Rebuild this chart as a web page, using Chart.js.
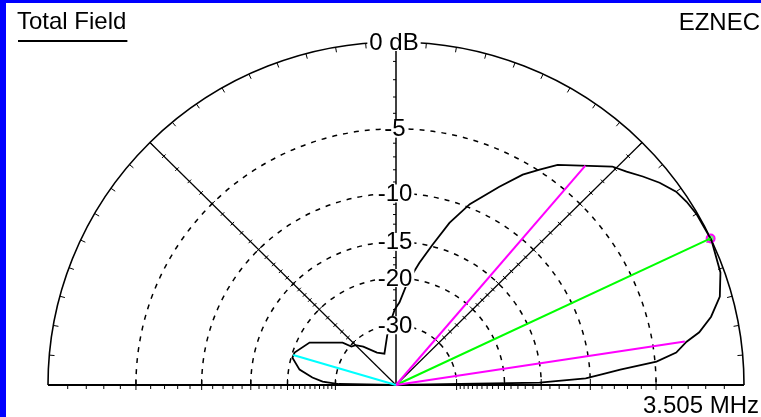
<!DOCTYPE html>
<html lang="en">
<head>
<meta charset="UTF-8">
<title>Total Field - EZNEC</title>
<script src="https://cdn.jsdelivr.net/npm/chart.js@4"></script>
<style>
  html, body { margin: 0; padding: 0; background: #fff; }
  #wrap { width: 761px; height: 417px; position: relative; }
</style>
</head>
<body>
<div id="wrap"><canvas id="chart"></canvas></div>
<script>
// elevation pattern (degrees, dB relative to max)
const angles = [0, 1, 2, 3, 4, 5.2, 6.7, 8.6, 10, 12.4, 15.5, 19.4, 25, 29.9, 32.6, 35, 37.9, 40.6, 43.2, 45.7,
                54.1, 56.7, 59.3, 62.8, 68.1, 72, 75.6, 79.3, 83.7, 87.6, 91, 95, 100, 110, 120, 130, 135,
                138.8, 141.2, 153.5, 162, 165, 170.8, 174.8, 177.3, 179, 180];
const gains = [-99, -15.2, -10.4, -9.0, -7.5, -4.9, -3.6, -2.9, -2.1, -1.3, -0.6, -0.2, 0, -0.05, -0.15, -0.3, -0.7, -1.17, -1.64, -2.0,
               -4.0, -4.9, -5.8, -7.4, -9.7, -12.0, -14.8, -17.4, -20.6, -24.4, -26, -29, -33, -40, -38, -33, -31,
               -30.4, -27.9, -22.0, -20.3, -20.2, -21.8, -24.4, -26.7, -31, -99];

// cursor lines: max gain, the two -3 dB points, rear lobe
const maxAngle = 25.3, maxGain = 0;
const halfPowerAngles = [49.6, 8.7], halfPowerGain = -3;
const rearAngle = 163.5, rearGain = -20.2;

// grid
const ringLevels = [-5, -10, -15, -20, -30];
const ringLabels = ['-5', '-10', '-15', '-20', '-30'];

// ARRL log scale
const rad = dB => Math.pow(0.89, -dB / 2);
const toXY = (a, dB) => {
  const r = rad(dB), t = a * Math.PI / 180;
  return { x: r * Math.cos(t), y: r * Math.sin(t) };
};

const patternPts = angles.map((a, i) => toXY(a, gains[i]));
const ray = (a, dB) => [{ x: 0, y: 0 }, toXY(a, dB)];

const FONT = '"Liberation Sans", Arial, sans-serif';

const ezGrid = {
  id: 'ezGrid',
  beforeDraw(chart) {
    const ctx = chart.ctx;
    ctx.save();
    ctx.fillStyle = '#fff';
    ctx.fillRect(0, 0, chart.width, chart.height);
    ctx.fillStyle = '#0000ff';
    ctx.fillRect(0, 0, 6, chart.height);
    ctx.fillRect(0, 0, chart.width, 3);
    ctx.restore();
  },
  beforeDatasetsDraw(chart) {
    const ctx = chart.ctx, xs = chart.scales.x, ys = chart.scales.y;
    const cx = xs.getPixelForValue(0), cy = ys.getPixelForValue(0);
    const rx = xs.getPixelForValue(1) - cx, ry = cy - ys.getPixelForValue(1);
    const P = (a, r) => {
      const t = a * Math.PI / 180;
      return [cx + rx * r * Math.cos(t), cy - ry * r * Math.sin(t)];
    };
    ctx.save();
    ctx.strokeStyle = '#000';

    // dashed rings
    ctx.lineWidth = 1.5;
    ctx.setLineDash([5, 6]);
    ringLevels.forEach(l => {
      const r = rad(l);
      ctx.beginPath();
      ctx.ellipse(cx, cy, rx * r, ry * r, 0, Math.PI, 2 * Math.PI);
      ctx.stroke();
    });
    ctx.setLineDash([]);

    // outer circle
    ctx.lineWidth = 1.6;
    ctx.beginPath();
    ctx.ellipse(cx, cy, rx, ry, 0, Math.PI, 2 * Math.PI);
    ctx.stroke();
    ctx.lineWidth = 1;
    for (let a = 5; a < 180; a += 5) {
      if (a === 90) continue;
      const [x1, y1] = P(a, 1), [x2, y2] = P(a, 0.985);
      ctx.beginPath(); ctx.moveTo(x1, y1); ctx.lineTo(x2, y2); ctx.stroke();
    }

    // baseline
    ctx.lineWidth = 2;
    ctx.beginPath();
    ctx.moveTo(cx - rx, cy); ctx.lineTo(cx + rx, cy);
    ctx.stroke();
    ctx.lineWidth = 1;
    for (let d = 1; d <= 30; d++) {
      const r = rad(-d), major = ringLevels.includes(-d);
      [-1, 1].forEach(s => {
        const x = cx + s * rx * r;
        ctx.beginPath();
        ctx.moveTo(x, cy - (major ? 6 : 0));
        ctx.lineTo(x, cy + (major ? 5 : 4));
        ctx.stroke();
      });
    }

    // radial lines at 45, 90, 135
    [45, 90, 135].forEach(a => {
      const [x1, y1] = P(a, 1);
      ctx.lineWidth = a === 90 ? 1.5 : 1.2;
      ctx.beginPath(); ctx.moveTo(cx, cy); ctx.lineTo(x1, y1); ctx.stroke();
      const t = a * Math.PI / 180;
      const nx = Math.sin(t), ny = Math.cos(t);
      ctx.lineWidth = 1;
      for (let d = 1; d <= 30; d++) {
        if (d > 20 && d % 2) continue;
        const [x, y] = P(a, rad(-d));
        const major = ringLevels.includes(-d);
        const len = major ? 4 : 2.5;
        ctx.beginPath();
        if (a === 90) {
          ctx.moveTo(x - (major ? 4 : 3), y); ctx.lineTo(x + (major ? 4 : 0), y);
        } else {
          ctx.moveTo(x - nx * len, y - ny * len); ctx.lineTo(x + nx * len, y + ny * len);
        }
        ctx.stroke();
      }
    });
    ctx.restore();
  },
  afterDatasetsDraw(chart) {
    const ctx = chart.ctx, xs = chart.scales.x, ys = chart.scales.y;
    const cx = xs.getPixelForValue(0), cy = ys.getPixelForValue(0);
    const ry = cy - ys.getPixelForValue(1);
    ctx.save();
    ctx.textBaseline = 'middle';
    ctx.textAlign = 'center';
    ctx.font = '24px ' + FONT;
    const label = (txt, x, y) => {
      const w = ctx.measureText(txt).width;
      ctx.fillStyle = '#fff';
      ctx.fillRect(x - w / 2 - 2, y - 9, w + 4, 18);
      ctx.fillStyle = '#000';
      ctx.fillText(txt, x, y + 1);
    };
    label('0 dB', cx - 2, cy - ry);
    ringLevels.forEach((l, i) => label(ringLabels[i], cx - 1, cy - ry * rad(l)));

    ctx.textBaseline = 'alphabetic';
    ctx.textAlign = 'left';
    ctx.fillText('Total Field', 17, 29);
    const w = ctx.measureText('Total Field').width;
    ctx.fillRect(18, 40, w, 2);
    ctx.textAlign = 'right';
    ctx.fillText('EZNEC', 760, 30);
    ctx.fillText('3.505 MHz', 759, 413);
    ctx.restore();
  }
};

const lineDs = (data, color, width) => ({
  data, borderColor: color, borderWidth: width, showLine: true,
  pointRadius: 0, tension: 0, clip: false, fill: false
});

new Chart(document.getElementById('chart'), {
  type: 'scatter',
  data: {
    datasets: [
      lineDs(ray(rearAngle, rearGain), '#00ffff', 2),
      lineDs(ray(halfPowerAngles[0], halfPowerGain), '#ff00ff', 2),
      lineDs(ray(halfPowerAngles[1], halfPowerGain), '#ff00ff', 2),
      lineDs(ray(maxAngle, maxGain), '#00ff00', 2),
      lineDs(patternPts, '#000000', 1.8),
      {
        data: [toXY(maxAngle, maxGain)], pointRadius: 4, pointBorderWidth: 2,
        pointBorderColor: '#ff00ff', pointBackgroundColor: 'rgba(0,255,0,0.6)', clip: false
      }
    ]
  },
  options: {
    responsive: true,
    maintainAspectRatio: false,
    animation: false,
    layout: { padding: { left: 48, right: 17, top: 42, bottom: 32 } },
    plugins: { legend: { display: false }, tooltip: { enabled: false } },
    scales: {
      x: { type: 'linear', min: -1, max: 1, display: false },
      y: { type: 'linear', min: 0, max: 1, display: false }
    }
  },
  plugins: [ezGrid]
});
</script>
</body>
</html>
